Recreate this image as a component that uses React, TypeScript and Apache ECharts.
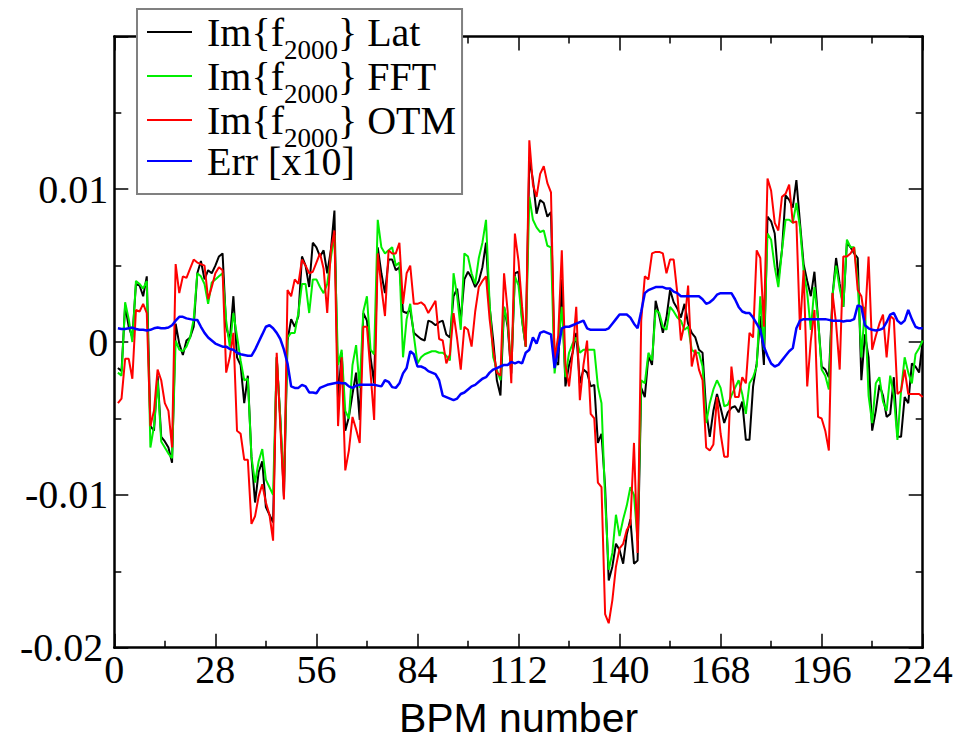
import React, { useEffect, useRef } from "react";
import * as echarts from "echarts";

// BPM numbers 1..224 (x positions handled by the value axis)
const BPM: number[] = Array.from({ length: 224 }, (_, i) => i + 1);

// Values in units of 1e-3 (axis labels show the real value)
const lat: number[] = [
  -1.7, -1.9, 2.4, 1.0, 0.3, 3.8, 3.7, 3.0, 4.3, -5.5,
  -5.8, -2.2, -6.2, -6.5, -6.9, -7.9, 1.2, -0.1, -0.85, 0.1,
  0.3, 1.0, 4.5, 5.3, 4.1, 4.7, 4.5, 5.0, 5.6, 5.8,
  1.0, 0.1, 3.0, -1.0, -1.5, -4.0, -2.2, -7.5, -10.5, -8.5,
  -7.8, -10.8, -11.3, -11.8, -1.0, -5.0, -10.1, 0.1, 1.5, 1.0,
  1.7, 5.6, 5.0, 3.6, 6.5, 6.2, 5.6, 6.0, 4.5, 6.0,
  8.6, -3.8, -0.7, -5.8, -4.9, -3.4, -2.0, -5.1, 1.9, 1.4,
  -1.0, -2.7, 6.2, 4.5, 3.2, 5.4, 5.4, 4.7, 4.9, 2.0,
  1.9, 2.1, 0.6, 0.4, 0.2, 0.1, 1.4, 1.3, 1.1, 1.3,
  1.4, 0.5, 0.3, 3.0, 3.5, 1.4, 4.1, 4.6, 4.2, 3.6,
  4.0, 4.9, 6.5, 2.3, 0.1, -2.5, -3.5, 2.3, 1.0, -2.05,
  4.5, 4.6, 1.4, -0.3, 12.0, 10.6, 8.4, 9.3, 9.1, 8.2,
  8.5, -1.2, -1.5, 4.1, -2.9, -1.5, -0.7, 0.6, -2.7, -1.8,
  -2.0, -2.9, -2.8, -6.6, -6.0, -9.5, -15.6, -14.7, -13.2, -13.6,
  -14.5, -12.6, -11.6, -14.5, -14.3, -3.0, -3.6, -0.9, -1.5, 2.7,
  1.7, 0.6, 1.6, 3.4, 2.6, 2.2, 1.6, 2.5, 1.2, 0.6,
  0.3, -0.5, -0.7, -4.5, -6.2, -4.5, -3.4, -4.3, -5.3, -4.6,
  -4.3, -4.2, -4.6, -3.9, -6.4, -6.4, -2.9, -1.4, 1.7, -1.5,
  8.2, 7.9, 7.1, 4.1, 6.0, 9.6, 9.3, 8.8, 10.6, 7.8,
  5.1, 4.0, 3.0, 4.6, 1.5, -1.6, -1.8, -2.3, 3.0, 5.5,
  3.8, 2.3, 6.5, 6.2, 5.8, 5.5, -2.5, 0.5, -1.0, -5.8,
  -4.5, -2.8, -3.5, -4.9, -4.7, -2.3, -6.2, -6.2, -3.6, -4.0,
  -1.4, -1.6, -2.0, 0.1,
];

const fft: number[] = [
  -2.0, -2.2, 2.6, 1.5, 0.0, 4.0, 3.8, 3.5, 4.0, -6.9,
  -5.5, -2.5, -6.5, -6.9, -7.3, -7.6, 0.1, -0.5, -0.6, -0.3,
  0.3, 1.5, 4.5, 4.3, 3.8, 2.5, 3.9, 4.1, 4.3, 4.5,
  1.4, -0.3, 1.9, 0.4, -1.2, -2.5, -2.4, -7.5, -9.2, -7.8,
  -7.0, -9.0, -9.5, -10.0, -1.0, -5.0, -9.5, 0.3, 0.6, 0.6,
  1.9, 3.8, 3.8, 1.9, 4.1, 4.1, 3.6, 3.2, 3.8, 5.5,
  7.0, -1.5, -0.5, -4.5, -5.0, -1.5, -0.2, -3.0, 2.0, 3.0,
  -0.5, -0.8, 8.0, 6.2, 5.8, 6.0, 6.2, 5.0, 5.2, -1.0,
  1.5, 2.5, 0.4, -1.4, -1.0, -0.8, -0.7, -0.6, -0.6, -0.7,
  -0.7, -0.9, -1.2, 4.5, 3.0, 0.8, 5.8, 5.6, 4.5, 3.8,
  5.5, 6.5, 8.0, 2.5, -1.0, -1.8, -2.5, 2.3, 1.2, -1.6,
  4.3, 3.7, 1.4, -0.3, 9.5, 8.0, 7.5, 7.2, 7.3, 6.3,
  6.2, -2.05, 0.0, 2.3, -2.3, -0.7, -0.1, 0.3, -0.7, -0.5,
  -0.5, -0.5, -0.5, -2.9, -4.0, -10.3, -14.9, -13.8, -11.3, -12.7,
  -11.6, -10.7, -9.5, -10.0, -13.0, -2.5, -2.7, -0.7, -1.2, 2.1,
  1.9, 1.0, 0.8, 2.3, 2.0, 1.6, 1.4, 0.8, 1.0, -0.5,
  -0.7, -0.7, -1.6, -5.3, -4.0, -3.1, -2.5, -3.0, -4.2, -4.1,
  -3.5, -3.0, -2.5, -3.4, -4.7, -2.7, -2.3, -1.6, 3.0, -0.5,
  7.1, 6.7, 4.9, 3.6, 6.0, 8.0, 8.0, 7.8, 9.1, 7.5,
  4.7, 3.2, 0.8, 3.6, 1.5, -1.8, -2.2, -3.1, 3.0, 5.0,
  3.5, 2.3, 6.7, 6.2, 6.2, 4.0, -1.0, 2.3, -3.5, -5.3,
  -2.7, -2.3, -3.9, -4.5, -2.2, -3.5, -6.4, -3.2, -1.0, -2.0,
  -2.7, -0.8, -0.4, 0.1,
];

const otm: number[] = [
  -4.0, -3.7, -1.1, -1.1, -2.4, 2.1, 2.0, 2.5, 1.9, -5.5,
  -4.5, -1.8, -2.5, -4.0, -4.5, -6.9, 5.1, 3.2, 4.3, 4.2,
  4.8, 5.4, 5.2, 5.1, 5.0, 2.8, 3.6, 4.5, 4.9, 4.7,
  -2.0, -1.0, 0.6, -5.8, -6.0, -7.7, -7.7, -11.9, -11.4, -10.1,
  -9.3, -10.5, -11.3, -13.0, -0.7, -5.5, -10.3, 3.4, 3.0, 4.1,
  3.8, 5.4, 5.0, 4.5, 4.6, 5.2, 5.8, 4.8, 1.9, 6.0,
  7.3, -5.5, -1.0, -8.4, -7.1, -4.9, -5.7, -6.6, 1.0, 1.0,
  -2.0, -5.1, 5.8, 3.6, 1.7, 6.0, 5.8, 5.8, 6.5, 2.5,
  4.5, 5.0, 2.5, 2.5, 2.6, 2.4, 1.9, 2.3, 2.7, 0.2,
  0.1, -1.4, -0.8, 1.9, 0.2, -1.8, 1.0, 0.8, -0.3, 2.0,
  3.6, 4.0, 4.3, 1.5, -0.5, -2.0, -2.2, 4.5, 2.0, -2.7,
  7.1, 5.3, 2.3, -0.3, 13.2, 10.3, 9.5, 11.0, 11.5, 10.4,
  9.8, -1.2, 0.4, 6.0, -1.5, -2.9, -0.7, 2.3, -3.8, -1.5,
  0.1, -4.7, -5.0, -9.2, -9.5, -17.8, -18.4, -16.9, -14.7, -13.5,
  -13.2, -12.3, -11.9, -6.6, -13.8, 1.4, 4.3, 4.1, 5.8, 5.9,
  5.9, 5.8, 4.5, 5.4, 5.4, 3.2, 0.1, 1.2, 3.7, -1.6,
  -0.5, -1.8, -2.5, -6.9, -7.1, -6.7, -3.6, -6.0, -7.5, -7.5,
  -1.6, -3.6, -3.6, -2.3, -2.7, 0.6, 0.3, 6.0, 5.5, 1.0,
  10.7, 9.9, 7.8, 7.3, 9.5, 9.7, 10.3, 7.8, 7.9, 0.8,
  4.7, -2.9, 0.1, 2.1, -4.9, -5.0, -5.8, -7.1, 3.2, 1.2,
  -1.8, 5.6, 5.6, 5.8, 6.2, 3.4, 3.0, 1.4, 5.6, -0.5,
  0.4, 1.2, 1.8, -1.0, 1.7, 1.5, -3.4, -3.2, -1.8, -3.4,
  -3.4, -3.4, -3.4, -3.6,
];

const err10: number[] = [
  0.9, 0.85, 0.85, 0.9, 0.95, 0.85, 0.8, 0.8, 0.75, 0.8,
  0.9, 0.95, 0.9, 0.9, 0.95, 1.1, 1.4, 1.65, 1.65, 1.55,
  1.5, 1.45, 1.45, 1.0, 0.6, 0.3, 0.1, -0.1, -0.2, -0.3,
  -0.3, -0.45, -0.5, -0.7, -0.8, -0.85, -0.9, -0.9, -0.5, 0.0,
  0.5, 1.0, 1.1, 0.9, 0.6, 0.2, -0.5, -1.4, -2.9, -3.0,
  -3.0, -2.8, -2.9, -3.3, -3.3, -3.35, -3.0, -2.9, -2.8, -2.75,
  -2.7, -2.65, -2.7, -2.7, -2.9, -3.0, -2.85, -2.8, -2.8, -2.8,
  -2.8, -2.8, -2.85, -2.9, -2.5, -2.6, -2.95, -3.0, -2.7, -2.05,
  -1.7, -0.6, -0.8, -1.6, -1.6, -1.7, -1.9, -2.0, -2.1, -2.5,
  -3.5, -3.6, -3.7, -3.8, -3.7, -3.4, -3.3, -3.1, -2.9, -2.8,
  -2.6, -2.4, -2.3, -2.0, -1.8, -1.7, -1.6, -1.5, -1.5, -1.3,
  -1.4, -1.3, -1.4, -0.7, -0.5, 0.3, -0.1, 0.6, 0.7, 0.6,
  0.5, -1.7, -0.5, 0.9, 1.0, 1.0, 1.1, 1.2, 1.3, 1.4,
  0.9, 0.8, 0.8, 0.8, 0.8, 0.8, 0.9, 1.2, 1.5, 1.8,
  1.8, 1.8, 1.6, 1.2, 0.9, 2.0, 3.2, 3.4, 3.5, 3.6,
  3.6, 3.6, 3.5, 3.5, 3.3, 3.2, 3.0, 3.0, 3.0, 3.0,
  3.0, 3.0, 2.8, 2.5, 2.6, 2.8, 3.1, 3.2, 3.2, 3.2,
  3.2, 2.8, 2.3, 2.0, 1.9, 1.9, 1.6, 1.2, 0.8, -0.3,
  -0.9, -1.4, -1.6, -1.5, -1.2, -0.9, -0.6, -0.4, 0.9, 1.4,
  1.5, 1.5, 1.5, 1.5, 1.5, 1.5, 1.5, 1.45, 1.4, 1.4,
  1.4, 1.35, 1.4, 1.4, 1.5, 2.4, 2.3, 1.1, 0.9, 0.8,
  0.75, 0.8, 0.9, 1.3, 1.8, 1.9, 1.4, 1.2, 1.4, 2.1,
  1.5, 1.0, 0.9, 0.9,
];

const X_TICKS = { min: 0, max: 224, interval: 28 };
const Y_TICKS = { min: -20, max: 20, interval: 10 }; // units of 1e-3

const SERIES_NAMES = ["Im{f2000} Lat", "Im{f2000} FFT", "Im{f2000} OTM", "Err [x10]"];
const LEGEND_TEXT: Record<string, string> = {
  "Im{f2000} Lat": "Im{f{s|2000}} Lat",
  "Im{f2000} FFT": "Im{f{s|2000}} FFT",
  "Im{f2000} OTM": "Im{f{s|2000}} OTM",
  "Err [x10]": "Err [x10]",
};
const COLORS = ["#000000", "#00ee00", "#ff0000", "#0000ff"];

const SERIF = "Liberation Serif";
const SANS = "Liberation Sans";

export default function App() {
  const ref = useRef<HTMLDivElement>(null);

  useEffect(() => {
    if (!ref.current) return;
    const chart = echarts.init(ref.current, undefined, { renderer: "svg" });
    const toPairs = (arr: number[]) => arr.map((v, i) => [BPM[i], v]);
    const seriesData = [lat, fft, otm, err10];

    const axisCommon = {
      axisLine: { show: true, onZero: false, lineStyle: { color: "#000", width: 2.5 } },
      axisTick: { show: true, inside: true, length: 14, lineStyle: { color: "#000", width: 1.5 } },
      minorTick: { show: true, splitNumber: 2, length: 7, lineStyle: { color: "#000", width: 1.5 } },
      splitLine: { show: false },
      minorSplitLine: { show: false },
    };

    const yFmt = (v: number) => {
      const r = Math.round(v);
      if (r === 20) return "";
      if (r === 0) return "0";
      if (r === -20) return "{m|" + String(r / 1000) + "}";
      return String(r / 1000);
    };

    chart.setOption({
      animation: false,
      backgroundColor: "#ffffff",
      grid: { left: 114.3, top: 36.4, right: 52.3, bottom: 98.3, containLabel: false },
      legend: {
        show: true,
        orient: "vertical",
        left: 137,
        top: 9,
        icon: "rect",
        itemWidth: 45,
        itemHeight: 2,
        itemGap: -10.5,
        padding: [0, 6, 13, 10],
        backgroundColor: "#ffffff",
        borderColor: "#808080",
        borderWidth: 2,
        borderRadius: 0,
        selectedMode: false,
        data: SERIES_NAMES,
        formatter: (name: string) => LEGEND_TEXT[name] ?? name,
        textStyle: {
          fontFamily: SERIF,
          fontSize: 40,
          color: "#000",
          lineHeight: 36,
          padding: [0, 0, 0, 10],
          rich: {
            s: {
              fontFamily: SERIF,
              fontSize: 27,
              color: "#000",
              height: 10,
              lineHeight: 36,
              padding: [36, 0, 0, 0],
            },
          },
        },
        z: 10,
      },
      xAxis: [
        {
          type: "value",
          position: "bottom",
          ...X_TICKS,
          ...axisCommon,
          axisLabel: {
            show: true,
            margin: 2,
            fontFamily: SERIF,
            fontSize: 40,
            color: "#000",
          },
          name: "BPM number",
          nameLocation: "middle",
          nameGap: 50,
          nameTextStyle: { fontFamily: SANS, fontSize: 41, color: "#000" },
        },
        {
          type: "value",
          position: "top",
          ...X_TICKS,
          ...axisCommon,
          axisLabel: { show: false },
        },
      ],
      yAxis: [
        {
          type: "value",
          position: "left",
          ...Y_TICKS,
          ...axisCommon,
          axisLabel: {
            show: true,
            margin: 6,
            fontFamily: SERIF,
            fontSize: 40,
            color: "#000",
            formatter: yFmt,
            rich: {
              m: { fontFamily: SERIF, fontSize: 40, color: "#000", padding: [0, 5, 0, 0] },
            },
          },
        },
        {
          type: "value",
          position: "right",
          ...Y_TICKS,
          ...axisCommon,
          axisLabel: { show: false },
        },
      ],
      series: SERIES_NAMES.map((name, k) => ({
        name,
        type: "line",
        xAxisIndex: 0,
        yAxisIndex: 0,
        data: toPairs(seriesData[k]),
        showSymbol: false,
        symbol: "none",
        color: COLORS[k],
        lineStyle: { color: COLORS[k], width: k === 3 ? 2.5 : 2 },
        silent: true,
        z: 2 + k * 0.01,
      })),
    });

    return () => chart.dispose();
  }, []);

  return (
    <div
      ref={ref}
      style={{ position: "absolute", left: 0, top: 0, width: 975, height: 746, background: "#fff" }}
    />
  );
}
